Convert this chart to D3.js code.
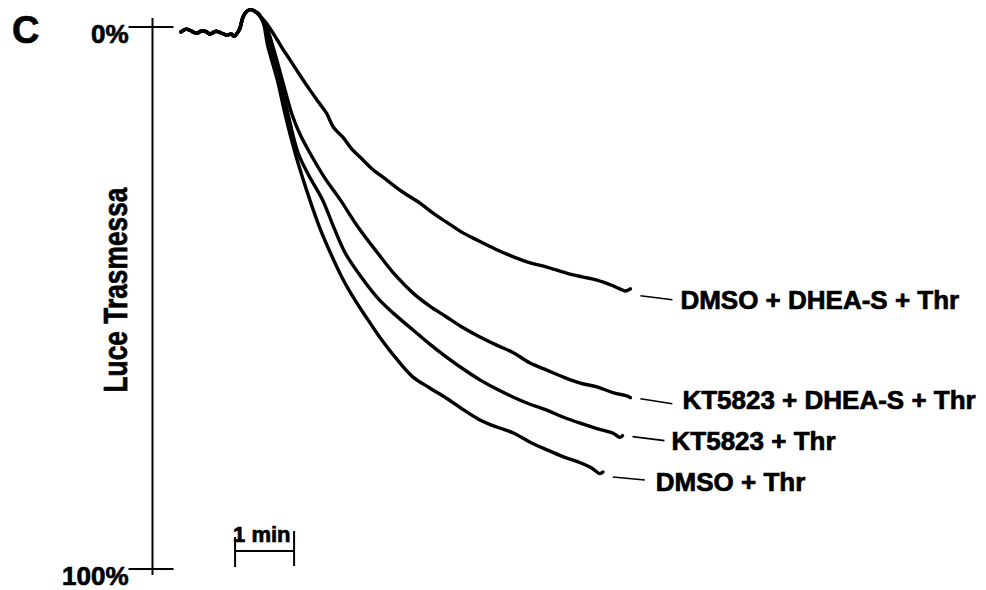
<!DOCTYPE html>
<html>
<head>
<meta charset="utf-8">
<script src="https://cdn.jsdelivr.net/npm/d3@7"></script>
<style>
  body { margin: 0; background: #fff; }
  text { font-family: "Liberation Sans", Arial, sans-serif; font-weight: bold; fill: #000; stroke: #000; stroke-width: 0.7px; }
</style>
</head>
<body>
<svg id="chart" width="986" height="590"></svg>
<script>
// --- data (time in seconds, transmitted light in %) ---
var panelLetter = 'C';
var yTitle = 'Luce Trasmessa';
var yTicks = [0, 100];
var yTickLabels = ['0%', '100%'];
var scaleBarTime = [55, 115];   // one minute
var scaleBarLabel = '1 min';

var seriesNames = ['DMSO + DHEA-S + Thr', 'KT5823 + DHEA-S + Thr', 'KT5823 + Thr', 'DMSO + Thr'];

// trace before thrombin, shared by all four recordings
var baseline = [[0,0.9],[5,0.4],[9,0.6],[13,1.0],[17,1.1],[21,0.7],[26,0.9],[29,1.3],[32,1.1],[35,0.8],[38,0.9],[42,1.2],[47,1.5],[51,1.3],[54,1.7],[58,0.9],[60,0.2],[63,-1.8],[67,-2.9],[71,-3.2],[75,-2.9]];

var dmsoDhea = [[78,-2.6],[83,-1.5],[88,-0.4],[98,2.4],[104,4.2],[111,6.1],[121,8.9],[131,11.6],[140,13.9],[148,15.9],[155,18.5],[165,20.4],[174,22.6],[182,24.0],[195,26.3],[209,28.2],[225,30.4],[243,32.5],[256,34.3],[270,36.0],[285,37.8],[301,39.3],[320,41.0],[338,42.4],[355,43.5],[372,44.3],[392,45.4],[408,46.1],[423,46.7],[440,47.8],[452,48.7],[457,48.3]];

var ktDhea = [[80,-2.1],[86,-0.5],[93,3.3],[103,9.8],[113,16.2],[121,19.8],[131,23.2],[146,27.8],[162,31.9],[180,36.9],[200,41.7],[218,45.8],[236,49.1],[253,51.5],[270,53.5],[287,55.5],[304,57.2],[321,58.7],[338,60.1],[355,62.0],[372,63.3],[389,64.6],[406,65.7],[423,66.4],[440,67.5],[454,68.1],[457,68.4]];

var ktThr = [[80,-2.1],[85,-0.4],[91,3.3],[101,9.8],[109,16.2],[119,23.2],[130,27.4],[144,31.9],[155,36.8],[167,41.7],[184,46.3],[202,50.4],[219,53.3],[236,55.9],[253,58.5],[270,60.9],[287,63.1],[304,65.1],[321,66.8],[338,68.3],[355,69.6],[372,70.7],[389,72.0],[406,73.1],[423,74.1],[440,75.0],[446,75.7],[449,75.4]];

var dmsoThr = [[80,-2.1],[84,-0.6],[88,3.3],[98,9.8],[106,16.2],[116,23.2],[124,28.0],[131,31.9],[141,37.0],[152,41.7],[164,46.3],[177,50.4],[190,54.0],[202,57.2],[219,61.2],[236,64.6],[253,66.6],[270,68.5],[287,70.6],[304,72.5],[321,73.8],[338,74.9],[355,76.6],[372,78.0],[389,79.3],[406,80.4],[418,81.4],[426,82.4],[429,82.1]];

var seriesValues = [dmsoDhea, ktDhea, ktThr, dmsoThr];

// --- layout ---
var svg = d3.select('#chart');

var x = d3.scaleLinear().domain([0, 600]).range([181, 771]);
var y = d3.scaleLinear().domain([0, 100]).range([27, 569]);
var axisX = 152.5;

svg.append('text')
  .attr('x', 12).attr('y', 43)
  .style('font-size', '38px')
  .text(panelLetter);

// y axis line + crossing ticks
svg.append('line')
  .attr('x1', axisX).attr('x2', axisX)
  .attr('y1', y(0) - 9).attr('y2', y(100) + 6)
  .attr('stroke', '#000').attr('stroke-width', 2);

var tick = svg.selectAll('g.tick')
  .data(yTicks)
  .enter().append('g').attr('class', 'tick');

tick.append('line')
  .attr('x1', axisX - 24).attr('x2', axisX + 21)
  .attr('y1', function(d) { return y(d); })
  .attr('y2', function(d) { return y(d); })
  .attr('stroke', '#000').attr('stroke-width', 2);

tick.append('text')
  .attr('x', axisX - 24)
  .attr('y', function(d) { return y(d) + 16; })
  .attr('text-anchor', 'end')
  .style('font-size', '26px')
  .text(function(d, i) { return yTickLabels[i]; });

svg.append('text')
  .attr('transform', 'translate(127,290) rotate(-90)')
  .attr('text-anchor', 'middle')
  .attr('textLength', 205)
  .attr('lengthAdjust', 'spacingAndGlyphs')
  .style('font-size', '33px')
  .text(yTitle);

// traces
var line = d3.line()
  .x(function(d) { return x(d[0]); })
  .y(function(d) { return y(d[1]); })
  .curve(d3.curveCatmullRom.alpha(0.5));

svg.selectAll('path.trace')
  .data(seriesValues)
  .enter().append('path')
  .attr('class', 'trace')
  .attr('d', function(d) { return line(baseline.concat(d)); })
  .attr('fill', 'none')
  .attr('stroke', '#000')
  .attr('stroke-width', 3.4)
  .attr('stroke-linejoin', 'round')
  .attr('stroke-linecap', 'round');

// labels with short leader lines
var leaderDy = [[7, 11], [1, 6], [1, 5], [5, 8]];
var textDx = [50, 52, 49, 53];
var textDy = [20, 11, 14, 19];

seriesValues.forEach(function(s, i) {
  var last = s[s.length - 1];
  var ex = x(last[0]), ey = y(last[1]);
  svg.append('line')
    .attr('x1', ex + 10).attr('x2', ex + 42)
    .attr('y1', ey + leaderDy[i][0]).attr('y2', ey + leaderDy[i][1])
    .attr('stroke', '#000').attr('stroke-width', 1.6);
  svg.append('text')
    .attr('x', ex + textDx[i])
    .attr('y', ey + textDy[i])
    .style('font-size', '26px')
    .text(seriesNames[i]);
});

// time scale bar
var sb0 = x(scaleBarTime[0]), sb1 = x(scaleBarTime[1]);
var bar = svg.append('g').attr('stroke', '#000').attr('stroke-width', 2);
bar.append('line').attr('x1', sb0).attr('x2', sb1).attr('y1', 551).attr('y2', 551);
bar.append('line').attr('x1', sb0).attr('x2', sb0).attr('y1', 537).attr('y2', 567);
bar.append('line').attr('x1', sb1).attr('x2', sb1).attr('y1', 531).attr('y2', 566);

svg.append('text')
  .attr('x', sb0 - 2).attr('y', 542)
  .style('font-size', '22px')
  .text(scaleBarLabel);
</script>
</body>
</html>
